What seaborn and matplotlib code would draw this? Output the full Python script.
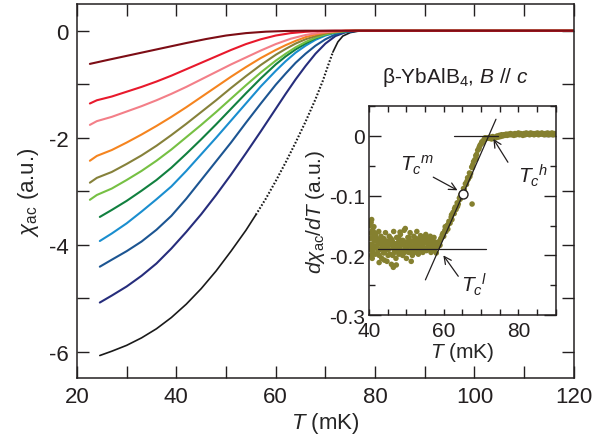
import numpy as np
import pandas as pd
import matplotlib
matplotlib.use("Agg")
import matplotlib.pyplot as plt
from matplotlib.ticker import MultipleLocator
import seaborn as sns

sns.set_theme(style="ticks")
plt.rcParams.update({
    "font.family": ["Liberation Sans", "DejaVu Sans"],
    "mathtext.fontset": "custom",
    "mathtext.rm": "Liberation Sans",
    "mathtext.it": "Liberation Sans:italic",
    "mathtext.bf": "Liberation Sans:bold",
    "axes.unicode_minus": False,
    "axes.linewidth": 1.1,
    "axes.edgecolor": "#231f20",
    "text.color": "#231f20",
    "xtick.color": "#231f20",
    "ytick.color": "#231f20",
})

# ---- chi_ac(T) sweeps (a.u.), T in mK ----
T_darkred = [22.6, 26, 30, 34, 38, 42, 46, 50, 54, 58, 62, 66, 120]
chi_darkred = [-0.62, -0.55, -0.47, -0.39, -0.31, -0.23, -0.155, -0.09, -0.045, -0.018, -0.005, 0.0, 0.0]

T_red = [22.6, 24, 27, 30, 33, 36, 39, 42, 45, 48, 51, 54, 57, 60, 63, 66, 69, 72, 120]
chi_red = [-1.36, -1.30, -1.23, -1.14, -1.05, -0.95, -0.84, -0.72, -0.60, -0.48, -0.36, -0.25, -0.16,
           -0.09, -0.045, -0.02, -0.005, 0.0, 0.0]

T_pink = [22.6, 24, 27, 30, 33, 36, 39, 42, 45, 48, 51, 54, 57, 60, 63, 66, 69, 72, 75, 120]
chi_pink = [-1.76, -1.69, -1.61, -1.51, -1.41, -1.30, -1.18, -1.05, -0.91, -0.77, -0.63, -0.50, -0.37,
            -0.25, -0.15, -0.08, -0.035, -0.01, 0.0, 0.0]

T_orange = [22.6, 24, 27, 30, 33, 36, 39, 42, 45, 48, 51, 54, 57, 60, 62, 64, 66, 68, 70, 72, 74, 120]
chi_orange = [-2.43, -2.34, -2.23, -2.09, -1.94, -1.78, -1.61, -1.43, -1.24, -1.05, -0.86, -0.68, -0.51,
              -0.36, -0.27, -0.19, -0.12, -0.07, -0.035, -0.015, 0.0, 0.0]

T_olive = [22.6, 24, 27, 30, 33, 36, 39, 42, 45, 48, 51, 54, 57, 60, 62, 64, 66, 68, 70, 72, 74, 76, 120]
chi_olive = [-2.84, -2.75, -2.64, -2.49, -2.33, -2.15, -1.95, -1.74, -1.52, -1.30, -1.07, -0.85, -0.64,
             -0.45, -0.34, -0.24, -0.16, -0.10, -0.05, -0.02, -0.005, 0.0, 0.0]

T_lgreen = [22.6, 24, 27, 30, 33, 36, 39, 42, 45, 48, 51, 54, 57, 60, 62, 64, 66, 68, 70, 72, 74, 76, 120]
chi_lgreen = [-3.16, -3.07, -2.95, -2.79, -2.62, -2.43, -2.22, -1.99, -1.76, -1.52, -1.27, -1.02, -0.78,
              -0.56, -0.43, -0.31, -0.21, -0.13, -0.07, -0.03, -0.01, 0.0, 0.0]

T_dgreen = [24.6, 27, 30, 33, 36, 39, 42, 45, 48, 51, 54, 57, 60, 62, 64, 66, 68, 70, 72, 74, 76, 120]
chi_dgreen = [-3.48, -3.35, -3.18, -2.99, -2.79, -2.56, -2.30, -2.03, -1.75, -1.46, -1.17, -0.89, -0.63,
              -0.48, -0.35, -0.24, -0.14, -0.07, -0.03, -0.01, 0.0, 0.0]

T_lblue = [24.6, 27, 30, 33, 36, 39, 42, 45, 48, 51, 54, 57, 60, 62, 64, 66, 68, 70, 72, 74, 76, 120]
chi_lblue = [-3.93, -3.79, -3.60, -3.38, -3.15, -2.91, -2.62, -2.31, -2.00, -1.68, -1.36, -1.04, -0.75,
             -0.57, -0.41, -0.28, -0.17, -0.09, -0.04, -0.012, 0.0, 0.0]

T_sblue = [24.6, 27, 30, 33, 36, 39, 42, 45, 48, 51, 54, 57, 60, 62, 64, 66, 68, 70, 72, 74, 76, 78, 120]
chi_sblue = [-4.41, -4.28, -4.12, -3.94, -3.72, -3.46, -3.14, -2.79, -2.44, -2.09, -1.72, -1.36, -1.01,
             -0.80, -0.60, -0.43, -0.28, -0.16, -0.07, -0.025, -0.005, 0.0, 0.0]

T_navy = [24.6, 27, 30, 33, 36, 39, 42, 45, 48, 51, 54, 57, 60, 62, 64, 66, 68, 70, 72, 74, 76, 78, 120]
chi_navy = [-5.08, -4.95, -4.78, -4.58, -4.35, -4.07, -3.76, -3.43, -3.07, -2.69, -2.29, -1.88, -1.46,
            -1.18, -0.91, -0.66, -0.43, -0.24, -0.10, -0.03, -0.005, 0.0, 0.0]

T_black = [24.6, 27, 30, 33, 36, 39, 42, 45, 48, 51, 54, 56, 58, 60, 62, 64, 66, 68, 69.5, 70.5, 71.5,
           72.5, 73.5, 75, 76.5, 78, 120]
chi_black = [-6.07, -5.99, -5.88, -5.74, -5.57, -5.36, -5.11, -4.82, -4.49, -4.12, -3.73, -3.44, -3.14,
             -2.81, -2.46, -2.09, -1.70, -1.28, -0.93, -0.66, -0.40, -0.21, -0.10, -0.035, -0.01, 0.0, 0.0]

# ---- d chi_ac / dT for the zero-field sweep ----
T_low = [40.2, 40.3, 40.4, 40.5, 40.6, 40.7, 40.8, 40.9, 41.0, 41.1, 41.2, 41.3, 41.5, 41.6, 41.8, 42.0, 42.2, 42.4,
         42.6, 42.8, 43.0, 43.2, 43.4, 43.6, 43.8, 44.0, 44.2, 44.4, 44.6, 44.8, 45.0, 45.2, 45.4, 45.6, 45.8, 46.0,
         46.2, 46.4, 46.6, 46.8, 47.0, 47.2, 47.4, 47.6, 47.8, 48.0, 48.2, 48.4, 48.6, 48.8, 49.0, 49.2, 49.4, 49.6,
         49.8, 50.0, 50.2, 50.4, 50.6, 50.8, 51.0, 51.2, 51.4, 51.6, 51.8, 52.0, 52.2, 52.4, 52.6, 52.8, 53.0, 53.2,
         53.4, 53.6, 53.8, 54.0, 54.2, 54.4, 54.6, 54.8, 55.0, 55.2, 55.4, 55.6, 55.8, 56.0, 56.2, 56.4, 56.6, 56.8,
         57.0, 57.2, 57.4, 57.6, 57.8, 58.0, 58.2,
         40.25, 40.55, 40.85, 41.15, 41.45, 41.9, 42.3, 42.7, 43.1, 43.5, 43.9, 44.3, 44.7, 45.1, 45.5, 45.9, 46.3,
         46.7, 47.1, 47.5, 47.9, 48.3, 48.7, 49.1, 49.5, 49.9, 50.3, 50.7, 51.1, 51.5, 51.9, 52.3, 52.7, 53.1, 53.5,
         53.9, 54.3, 54.7, 55.1, 55.5, 55.9, 56.3, 56.7, 57.1, 57.5, 57.9,
         42.7, 46.5, 47.3, 48.3, 49.7, 44.1, 51.3]
d_low = [-0.150, -0.172, -0.190, -0.163, -0.200, -0.140, -0.181, -0.158, -0.195, -0.170, -0.185, -0.152, -0.176,
         -0.198, -0.165, -0.186, -0.172, -0.193, -0.160, -0.180, -0.190, -0.168, -0.205, -0.178, -0.188, -0.172,
         -0.195, -0.162, -0.183, -0.210, -0.176, -0.190, -0.168, -0.198, -0.182, -0.215, -0.175, -0.188, -0.160,
         -0.195, -0.181, -0.205, -0.170, -0.190, -0.178, -0.198, -0.185, -0.165, -0.192, -0.175, -0.200, -0.183,
         -0.158, -0.190, -0.178, -0.205, -0.186, -0.170, -0.195, -0.180, -0.162, -0.192, -0.176, -0.200, -0.184,
         -0.168, -0.195, -0.178, -0.188, -0.160, -0.182, -0.198, -0.174, -0.190, -0.167, -0.185, -0.178, -0.195,
         -0.170, -0.188, -0.176, -0.165, -0.192, -0.180, -0.172, -0.188, -0.178, -0.168, -0.195, -0.182, -0.175,
         -0.190, -0.170, -0.185, -0.178, -0.196, -0.182,
         -0.182, -0.145, -0.205, -0.160, -0.188, -0.175, -0.182, -0.200, -0.176, -0.185, -0.196, -0.178, -0.190,
         -0.200, -0.182, -0.172, -0.200, -0.180, -0.192, -0.186, -0.170, -0.196, -0.182, -0.175, -0.195, -0.188,
         -0.178, -0.170, -0.184, -0.190, -0.176, -0.186, -0.172, -0.190, -0.183, -0.176, -0.186, -0.180, -0.190,
         -0.174, -0.184, -0.190, -0.176, -0.183, -0.192, -0.187,
         -0.212, -0.220, -0.216, -0.161, -0.155, -0.208, -0.210]

T_rise = [58.4, 58.7, 59.0, 59.2, 59.5, 59.8, 60.0, 60.3, 60.6, 60.9, 61.1, 61.4, 61.7, 62.0, 62.2, 62.5, 62.8,
          63.1, 63.3, 63.6, 63.9, 64.2, 64.4, 64.7, 65.0, 65.3, 65.5, 65.8, 66.1, 66.4, 66.6, 66.9, 67.2, 67.5,
          67.7, 68.0, 68.3, 68.6, 68.8, 69.1, 69.4, 69.7, 69.9, 70.2, 70.5, 70.8, 71.0, 71.3, 71.6, 71.9,
          58.9, 59.6, 60.4, 61.2, 62.1, 62.9, 63.7, 64.5, 65.4, 66.2, 67.0, 67.8, 68.7, 69.5, 70.3, 71.1, 67.6]
d_rise = [-0.186, -0.178, -0.183, -0.172, -0.170, -0.163, -0.168, -0.158, -0.160, -0.150, -0.156, -0.143, -0.146,
          -0.136, -0.140, -0.128, -0.130, -0.119, -0.123, -0.112, -0.114, -0.104, -0.106, -0.097, -0.098, -0.088,
          -0.090, -0.080, -0.081, -0.070, -0.072, -0.062, -0.063, -0.052, -0.053, -0.043, -0.040, -0.033, -0.031,
          -0.024, -0.022, -0.016, -0.014, -0.010, -0.009, -0.006, -0.006, -0.004, -0.004, -0.003,
          -0.176, -0.166, -0.152, -0.148, -0.132, -0.122, -0.118, -0.100, -0.094, -0.076, -0.068, -0.048, -0.038,
          -0.019, -0.012, -0.003, -0.114]

T_high = [72.2, 72.5, 72.8, 73.1, 73.4, 73.7, 74.0, 74.3, 74.6, 74.9, 75.2, 75.5, 75.8, 76.1, 76.4, 76.7, 77.0,
          77.3, 77.6, 77.9, 78.2, 78.5, 78.8, 79.1, 79.4, 79.7, 80.0, 80.3, 80.6, 80.9, 81.2, 81.5, 81.8, 82.1,
          82.4, 82.7, 83.0, 83.3, 83.6, 83.9, 84.2, 84.5, 84.8, 85.1, 85.4, 85.7, 86.0, 86.3, 86.6, 86.9, 87.2,
          87.5, 87.8, 88.1, 88.4, 88.7, 89.0, 89.3, 89.6, 89.9]
d_high = [-0.004, -0.002, -0.005, -0.001, -0.004, -0.002, -0.003, 0.000, -0.002, 0.001, -0.001, 0.002, 0.000,
          0.002, 0.001, 0.003, 0.001, 0.003, 0.002, 0.004, 0.002, 0.003, 0.001, 0.004, 0.002, 0.003, 0.005, 0.002,
          0.004, 0.003, 0.001, 0.004, 0.002, 0.005, 0.003, 0.004, 0.002, 0.005, 0.003, 0.004, 0.002, 0.004, 0.003,
          0.005, 0.002, 0.004, 0.003, 0.005, 0.003, 0.002, 0.004, 0.003, 0.005, 0.002, 0.004, 0.003, 0.005, 0.002,
          0.004, 0.003]

# construction lines and characteristic temperatures
slope_T = [55.1, 74.0]
slope_d = [-0.241, 0.028]
upper_T = [62.7, 74.5]
upper_d = [0.0, 0.0]
lower_T = [42.4, 71.3]
lower_d = [-0.19, -0.19]
Tc_m = (65.3, -0.097)

curves = [
    ("k", T_black, chi_black, "#1a1a1a"),
    ("navy", T_navy, chi_navy, "#262d7c"),
    ("sblue", T_sblue, chi_sblue, "#1c5592"),
    ("lblue", T_lblue, chi_lblue, "#1a8ecf"),
    ("dgreen", T_dgreen, chi_dgreen, "#11803f"),
    ("lgreen", T_lgreen, chi_lgreen, "#76c043"),
    ("olive", T_olive, chi_olive, "#86813a"),
    ("orange", T_orange, chi_orange, "#f5841f"),
    ("pink", T_pink, chi_pink, "#f37f88"),
    ("red", T_red, chi_red, "#e8192c"),
    ("darkred", T_darkred, chi_darkred, "#7d0d15"),
]

fig = plt.figure(figsize=(6.06, 4.39), dpi=100)
ax = fig.add_axes([0.127, 0.1367, 0.820, 0.852])

colored = pd.concat([pd.DataFrame({"T": t, "chi": c, "curve": n})
                     for n, t, c, _ in curves if n != "k"], ignore_index=True)
palette = {n: col for n, _, _, col in curves}
order = [n for n, _, _, _ in curves if n != "k"]

# zero-field sweep: solid below and above the transition, sparse dots through it
blk = pd.DataFrame({"T": T_black, "chi": chi_black})
sns.lineplot(data=blk[blk["T"] <= 56], x="T", y="chi", color="#1a1a1a", lw=1.2,
             estimator=None, sort=False, ax=ax)
sns.lineplot(data=blk[(blk["T"] >= 56) & (blk["T"] <= 71.5)], x="T", y="chi", color="#1a1a1a",
             lw=1.5, ls=(0, (0.8, 0.9)), estimator=None, sort=False, ax=ax)
sns.lineplot(data=blk[blk["T"] >= 71.5], x="T", y="chi", color="#1a1a1a", lw=1.2,
             estimator=None, sort=False, ax=ax)
sns.lineplot(data=colored, x="T", y="chi", hue="curve", hue_order=order, palette=palette,
             estimator=None, sort=False, lw=1.5, legend=False, ax=ax)

ax.set_xlim(20, 120)
ax.set_ylim(-6.49, 0.5)
ax.xaxis.set_major_locator(MultipleLocator(20))
ax.xaxis.set_minor_locator(MultipleLocator(10))
ax.yaxis.set_major_locator(MultipleLocator(2))
ax.yaxis.set_minor_locator(MultipleLocator(1))
ax.tick_params(which="both", direction="in", top=True, right=True, length=8.6, width=1.0,
               labelsize=16, pad=6)
ax.set_xlabel("$T$ (mK)", fontsize=16, labelpad=2)
ax.set_ylabel(r"$\chi_{\rm ac}$ (a.u.)", fontsize=16, labelpad=6)
for s in ax.spines.values():
    s.set_visible(True)
ax.text(81.4, -0.95, "β-YbAlB$_4$, $B$ // $c$", fontsize=15, ha="left", va="baseline")

# ---- inset: derivative ----
ins = fig.add_axes([0.609, 0.280, 0.308, 0.476])
Td = T_low + T_rise + T_high
dd = d_low + d_rise + d_high
sns.scatterplot(x=Td, y=dd, color="#85802f", s=16, edgecolor="none", linewidth=0, ax=ins, zorder=2)
for xs, ys in [(slope_T, slope_d), (upper_T, upper_d), (lower_T, lower_d)]:
    sns.lineplot(x=xs, y=ys, color="#231f20", lw=0.9, estimator=None, sort=False, ax=ins, zorder=3)
ins.plot([Tc_m[0]], [Tc_m[1]], marker="o", ms=6.5, mfc="white", mec="#231f20", mew=1.0, zorder=4)

arrow = dict(arrowstyle="->", lw=0.9, color="#231f20", shrinkA=0, shrinkB=0, mutation_scale=13)
ins.annotate("", xy=(63.7, -0.091), xytext=(57.2, -0.069), arrowprops=arrow, zorder=5)
ins.annotate("", xy=(73.3, -0.005), xytext=(77.2, -0.044), arrowprops=arrow, zorder=5)
ins.annotate("", xy=(59.9, -0.200), xytext=(63.9, -0.235), arrowprops=arrow, zorder=5)
ins.text(48.3, -0.058, r"$T_c{}^m$", fontsize=15, ha="left", va="baseline")
ins.text(79.8, -0.077, r"$T_c{}^h$", fontsize=15, ha="left", va="baseline")
ins.text(64.5, -0.260, r"$T_c{}^l$", fontsize=15, ha="left", va="baseline")

ins.set_xlim(40, 90)
ins.set_ylim(-0.3, 0.05)
ins.xaxis.set_major_locator(MultipleLocator(20))
ins.xaxis.set_minor_locator(MultipleLocator(5))
ins.yaxis.set_major_locator(MultipleLocator(0.1))
ins.yaxis.set_minor_locator(MultipleLocator(0.05))
ins.tick_params(which="both", direction="in", top=True, right=True, width=1.0, labelsize=15)
ins.tick_params(axis="x", which="both", length=4.3, pad=4.5)
ins.tick_params(axis="y", which="major", length=8.6, pad=3)
ins.tick_params(axis="y", which="minor", length=4.3)
ins.set_yticks([0, -0.1, -0.2, -0.3])
ins.set_yticklabels(["0", "-0.1", "-0.2", "-0.3"])
ins.set_xlabel("$T$ (mK)", fontsize=15, labelpad=0)
ins.set_ylabel(r"$d\chi_{\rm ac}/dT$ (a.u.)", fontsize=15, labelpad=1)
for s in ins.spines.values():
    s.set_visible(True)

fig.savefig("out.png", dpi=100)
